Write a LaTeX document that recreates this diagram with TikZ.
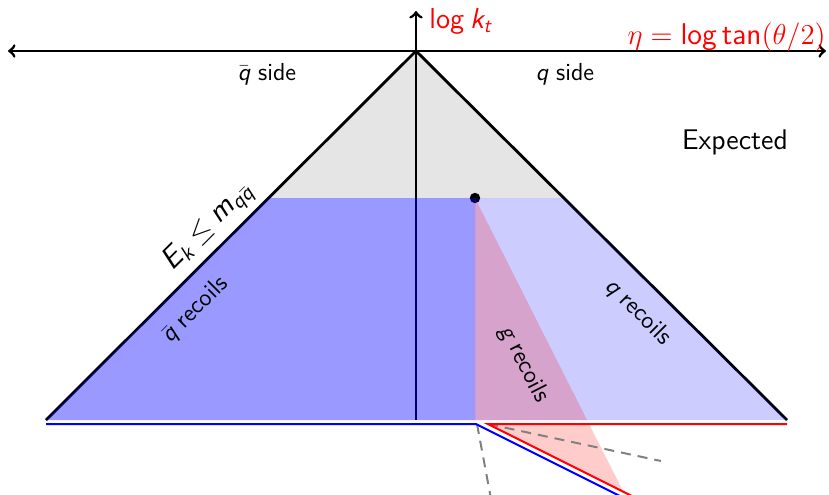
\documentclass[tikz,border=0pt]{standalone}
\usepackage{amsmath}
\newcommand\sv[1]{\textsf{\slshape #1}}
\begin{document}
\begin{tikzpicture}[x=0.5pt,y=-0.5pt,
  lbl/.style={font=\fontsize{12.3}{15}\selectfont\sffamily, inner sep=0pt},
  biglbl/.style={font=\fontsize{14.4}{17}\selectfont\sffamily, inner sep=0pt},
  ax/.style={line width=1.4pt},
  baseln/.style={line width=1pt},
  guide/.style={gray, line width=1pt, dash pattern=on 5pt off 3.5pt}]
\useasboundingbox (0,0) rectangle (829,494);
\clip (0,0) rectangle (829,494);
% key points
\coordinate (O) at (416,51);
\coordinate (L) at (8,51);
\coordinate (R) at (826,51);
\coordinate (T) at (416,11);
\coordinate (B) at (416,420);
\coordinate (BL) at (46,420);
\coordinate (BR) at (787,420);
\coordinate (HL) at (269,198);
\coordinate (HR) at (563,198);
\coordinate (D) at (475,198);
\coordinate (DB) at (475,420);
\coordinate (PB) at (587,420);
\coordinate (P1) at (488,424);
\coordinate (P2) at (589,424);
\coordinate (P3) at (623,491);
\coordinate (bl0) at (46,424);
\coordinate (bl1) at (476,424);
\coordinate (bl2) at (646,509);
\coordinate (rd0) at (787,424);
\coordinate (rd1) at (488,424);
\coordinate (rd2) at (658,509);
\coordinate (g0) at (477,424);
\coordinate (g1) at (494,515);
\coordinate (g2) at (661,461);
% axes and triangle
\draw[ax,<->] (L) -- (R);
\draw[ax,->] (B) -- (T);
\draw[ax] (BL) -- (O) -- (BR);
\fill (D) circle[radius=2.6pt];
% regions
\fill[black,opacity=0.1] (O) -- (HL) -- (HR) -- cycle;
\fill[blue,opacity=0.4] (HL) -- (D) -- (DB) -- (BL) -- cycle;
\fill[blue,opacity=0.2] (D) -- (HR) -- (BR) -- (DB) -- cycle;
\fill[red,opacity=0.2] (D) -- (DB) -- (PB) -- cycle;
\fill[red,opacity=0.2] (P1) -- (P2) -- (P3) -- cycle;
% lines below
\draw[guide] (g0) -- (g1);
\draw[guide] (rd1) -- (g2);
\draw[baseln,blue] (bl0) -- (bl1) -- (bl2);
\draw[baseln,red] (rd0) -- (rd1) -- (rd2);
% labels
\node[biglbl,red,anchor=base west] (lk) at (429,28) {log\hspace{0.2em}$\sv{k}_{\sv{t}}$};
\node[biglbl,font=\fontsize{15}{18}\selectfont\sffamily,red,anchor=base east] (eta) at (826,44) {$\eta = \textsf{log\,tan}(\theta/2)$};
\node[lbl,anchor=base] (qbs) at (267,80) {$\bar{\sv{q}}$ side};
\node[lbl,anchor=base] (qs) at (565,80) {$\sv{q}$ side};
\node[biglbl,font=\fontsize{14.2}{17}\selectfont\sffamily,anchor=base] (exp) at (735,149) {Expected};
\node[biglbl,font=\fontsize{15.2}{18}\selectfont\sffamily,rotate=45] (ek) at (208,227) {$\sv{E}_{\sv{k}} \le \sv{m}_{\sv{q}\bar{\sv{q}}}$};
\node[lbl,rotate=45] (qbr) at (195,310) {$\bar{\sv{q}}$ recoils};
\node[lbl,rotate=-45] (qr) at (638,312) {$\sv{q}$ recoils};
\node[lbl,rotate=-63] (gr) at (524,364) {$\sv{g}$ recoils};
\end{tikzpicture}
\end{document}
